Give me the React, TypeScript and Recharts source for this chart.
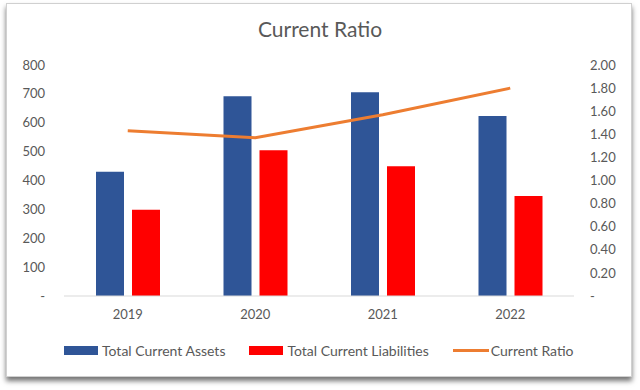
import React from "react"
import { ComposedChart, Bar, Line, XAxis, YAxis } from "recharts"

const years = ["2019", "2020", "2021", "2022"]
const totalCurrentAssets = [430, 692, 706, 623]
const totalCurrentLiabilities = [299, 505, 449, 346]
const currentRatio = [1.43, 1.37, 1.57, 1.8]

const leftTicks = [0, 100, 200, 300, 400, 500, 600, 700, 800]
const rightTicks = [0, 0.2, 0.4, 0.6, 0.8, 1, 1.2, 1.4, 1.6, 1.8, 2]

const BLUE = "#2F5597"
const RED = "#FF0000"
const ORANGE = "#ED7D31"
const TEXT = "#595959"
const FONT = "Lato, 'Liberation Sans', sans-serif"

const data = years.map((year, i) => ({
  year,
  assets: totalCurrentAssets[i],
  liabilities: totalCurrentLiabilities[i],
  ratio: currentRatio[i],
}))

const legendItems = [
  { name: "Total Current Assets", color: BLUE, kind: "bar" },
  { name: "Total Current Liabilities", color: RED, kind: "bar" },
  { name: "Current Ratio", color: ORANGE, kind: "line" },
]

const tickStyle = { fill: TEXT, fontSize: 13, fontFamily: FONT }

export default function App() {
  return (
    <div style={{ position: "absolute", left: 0, top: 0, width: 640, height: 390, background: "#fff", fontFamily: FONT }}>
      {/* frame with shadow */}
      <div
        style={{
          position: "absolute",
          left: 6,
          top: 3,
          width: 624,
          height: 372,
          border: "1px solid #d0d0d0",
          boxShadow: "0 4px 5px rgba(0,0,0,0.55)",
          background: "#fff",
        }}
      />
      <div
        style={{
          position: "absolute",
          top: 16,
          left: 0,
          width: 640,
          textAlign: "center",
          fontSize: 21,
          color: TEXT,
        }}
      >
        Current Ratio
      </div>
      <div style={{ position: "absolute", left: 0, top: 0 }}>
        <ComposedChart
          width={640}
          height={390}
          data={data}
          margin={{ top: 65, right: 0, bottom: 64, left: 0 }}
          barSize={28}
          barGap={8}
        >
          <XAxis
            dataKey="year"
            axisLine={{ stroke: "#d9d9d9" }}
            tickLine={false}
            tickSize={0}
            tickMargin={14}
            height={30}
            tick={tickStyle}
          />
          <YAxis
            yAxisId="left"
            domain={[0, 800]}
            ticks={leftTicks}
            axisLine={false}
            tickLine={false}
            tickSize={0}
            tickMargin={19}
            width={64}
            tick={tickStyle}
            tickFormatter={(v: number) => (v === 0 ? "-" : String(v))}
          />
          <YAxis
            yAxisId="right"
            orientation="right"
            domain={[0, 2]}
            ticks={rightTicks}
            axisLine={false}
            tickLine={false}
            tickSize={0}
            tickMargin={16}
            width={66}
            tick={{ ...tickStyle, textAnchor: "start" }}
            tickFormatter={(v: number) => (v === 0 ? "-" : v.toFixed(2))}
          />
          <Bar yAxisId="left" dataKey="assets" name="Total Current Assets" fill={BLUE} isAnimationActive={false} />
          <Bar yAxisId="left" dataKey="liabilities" name="Total Current Liabilities" fill={RED} isAnimationActive={false} />
          <Line
            yAxisId="right"
            dataKey="ratio"
            name="Current Ratio"
            stroke={ORANGE}
            strokeWidth={3}
            dot={false}
            type="linear"
            isAnimationActive={false}
          />
        </ComposedChart>
      </div>
      <div
        style={{
          position: "absolute",
          top: 342,
          left: 64,
          display: "flex",
          alignItems: "center",
          fontSize: 14,
          color: TEXT,
          whiteSpace: "nowrap",
        }}
      >
        {legendItems.map((item, i) => (
          <div key={item.name} style={{ display: "flex", alignItems: "center", marginRight: i < legendItems.length - 1 ? 24 : 0 }}>
            <span
              style={{
                display: "inline-block",
                width: item.kind === "bar" ? 34 : 36,
                height: item.kind === "bar" ? 9 : 3,
                background: item.color,
                marginRight: item.kind === "bar" ? 4 : 2,
              }}
            />
            <span>{item.name}</span>
          </div>
        ))}
      </div>
    </div>
  )
}
